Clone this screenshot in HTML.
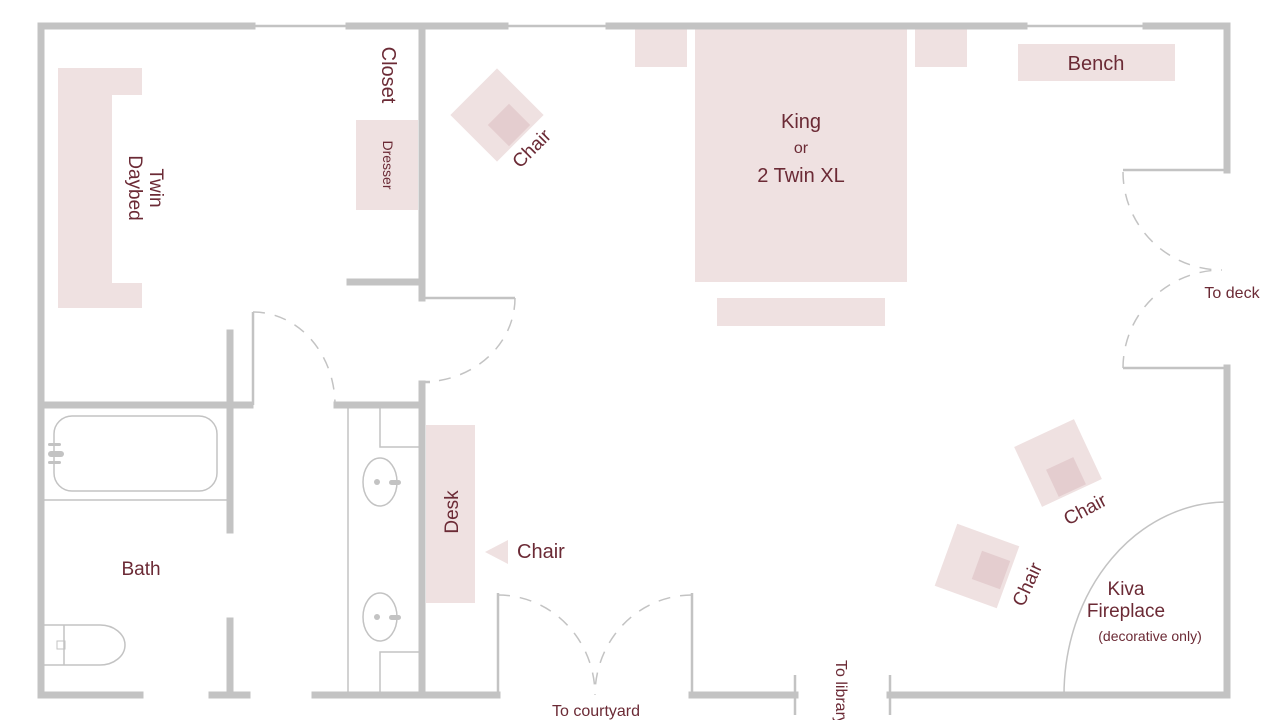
<!DOCTYPE html>
<html><head><meta charset="utf-8"><style>
html,body{margin:0;padding:0;background:#fff;}
svg{display:block;}
text{font-family:"Liberation Sans",sans-serif;fill:#6b2a35;}
</style></head><body>
<svg width="1280" height="720" viewBox="0 0 1280 720" xmlns="http://www.w3.org/2000/svg">
<g fill="#efe1e1">
<path d="M58 68H142V95H112V283H142V308H58Z"/>
<rect x="356" y="120" width="62" height="90"/>
<rect x="635" y="28" width="52" height="39"/>
<rect x="915" y="28" width="52" height="39"/>
<rect x="695" y="28" width="212" height="254"/>
<rect x="717" y="298" width="168" height="28"/>
<rect x="1018" y="44" width="157" height="37"/>
<rect x="426" y="425" width="49" height="178"/>
<polygon points="485,552 508,540 508,564"/>
<rect x="-33" y="-33" width="66" height="66" transform="translate(497,115) rotate(45)"/>
<rect x="-33" y="-33" width="66" height="66" transform="translate(1058,463) rotate(-25)"/>
<rect x="-33" y="-33" width="66" height="66" transform="translate(977,566) rotate(20)"/>
</g>
<g fill="#e4cdcf">
<rect x="-15" y="-15" width="30" height="30" transform="translate(509,125) rotate(45)"/>
<rect x="-15" y="-15" width="30" height="30" transform="translate(1066,477) rotate(-25)"/>
<rect x="-15" y="-15" width="30" height="30" transform="translate(991,570) rotate(20)"/>
</g>
<g stroke="#c3c3c3" stroke-width="7" fill="none" stroke-linecap="square">
<path d="M41 26V695"/>
<path d="M41 26H252M349 26H505M609 26H1024M1146 26H1227V170"/>
<path d="M1227 368V695H890"/>
<path d="M795 695H692M497 695H315M247 695H212M140 695H41"/>
<path d="M422 26V298M350 282H422M422 384V695"/>
<path d="M41 405H250M337 405H422"/>
<path d="M230 333V530M230 621V695"/>
</g>
<g stroke="#c3c3c3" stroke-width="2.5" fill="none">
<path d="M253 26H349M505 26H609M1024 26H1146"/>
<path d="M1123 170H1227M1123 368H1227"/>
<path d="M422 298H515M422 382H430"/>
<path d="M253 312V405"/>
<path d="M498 593V695M692 593V695"/>
<path d="M795 675V715M890 675V715"/>
</g>
<g stroke="#c3c3c3" stroke-width="1.5" fill="none" stroke-dasharray="12,10">
<path d="M515 298A93 84 0 0 1 422 382"/>
<path d="M253 312A82 93 0 0 1 335 405"/>
<path d="M498 595A97 100 0 0 1 595 695"/>
<path d="M692 595A97 100 0 0 0 595 695"/>
<path d="M1123 172A99 98 0 0 0 1222 270"/>
<path d="M1123 368A99 98 0 0 1 1222 270"/>
</g>
<g stroke="#c3c3c3" stroke-width="1.5" fill="none">
<path d="M1064 695A163 193 0 0 1 1227 502"/>
<rect x="54" y="416" width="163" height="75" rx="18"/>
<path d="M41 500H230"/>
<path d="M348 405V695M380 405V447H422M380 695V652H422"/>
<ellipse cx="380" cy="482" rx="17" ry="24"/>
<ellipse cx="380" cy="617" rx="17" ry="24"/>
<path d="M41 625H100A25 20 0 0 1 100 665H41M64 625V665"/>
<rect x="57" y="641" width="8" height="8" stroke-width="1"/>
</g>
<g fill="#c3c3c3">
<rect x="48" y="443" width="13" height="3" rx="1.5"/><rect x="48" y="451" width="16" height="6" rx="3"/><rect x="48" y="461" width="13" height="3" rx="1.5"/>
<circle cx="377" cy="482" r="3"/><rect x="389" y="480" width="12" height="5" rx="2.5"/>
<circle cx="377" cy="617" r="3"/><rect x="389" y="615" width="12" height="5" rx="2.5"/>
</g>
<text x="801" y="128" font-size="20" text-anchor="middle">King</text>
<text x="801" y="153" font-size="16" text-anchor="middle">or</text>
<text x="801" y="182" font-size="20" text-anchor="middle">2 Twin XL</text>
<text x="1096" y="70" font-size="20" text-anchor="middle">Bench</text>
<text x="1232" y="298" font-size="16" text-anchor="middle">To deck</text>
<text x="141" y="575" font-size="19" text-anchor="middle">Bath</text>
<text x="517" y="558" font-size="20">Chair</text>
<text x="596" y="716" font-size="16" text-anchor="middle">To courtyard</text>
<text x="1126" y="595" font-size="19" text-anchor="middle">Kiva</text>
<text x="1126" y="617" font-size="19" text-anchor="middle">Fireplace</text>
<text x="1150" y="641" font-size="14" text-anchor="middle">(decorative only)</text>
<text transform="translate(382,75) rotate(90)" font-size="20" text-anchor="middle">Closet</text>
<text transform="translate(383,165) rotate(90)" font-size="14" text-anchor="middle">Dresser</text>
<text transform="translate(150,188) rotate(90)" font-size="19" text-anchor="middle">Twin</text>
<text transform="translate(129,188) rotate(90)" font-size="19" text-anchor="middle">Daybed</text>
<text transform="translate(458,512) rotate(-90)" font-size="19" text-anchor="middle">Desk</text>
<text transform="translate(836,660) rotate(90)" font-size="16">To library</text>
<text transform="translate(536,153) rotate(-45)" font-size="19" text-anchor="middle">Chair</text>
<text transform="translate(1088,515) rotate(-28)" font-size="19" text-anchor="middle">Chair</text>
<text transform="translate(1033,587) rotate(-65)" font-size="19" text-anchor="middle">Chair</text>
</svg>
</body></html>
